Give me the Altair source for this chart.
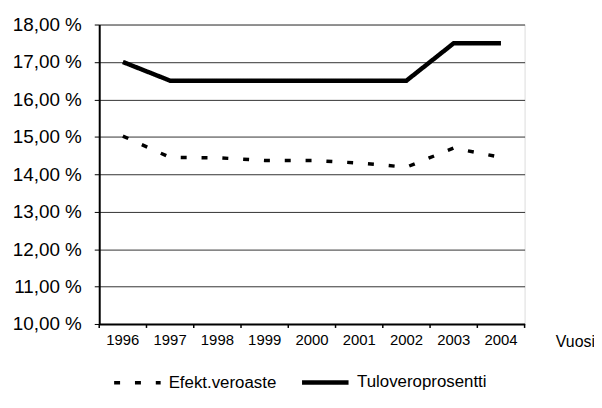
import altair as alt
import pandas as pd

years = ["1996", "1997", "1998", "1999", "2000", "2001", "2002", "2003", "2004"]
efekt = [15.02, 14.45, 14.44, 14.37, 14.37, 14.30, 14.19, 14.70, 14.45]
tulo = [17.0, 16.5, 16.5, 16.5, 16.5, 16.5, 16.5, 17.5, 17.5]
series = ["Efekt.veroaste", "Tuloveroprosentti"]

rows = []
for y, v in zip(years, efekt):
    rows.append({"Vuosi": y, "arvo": v, "sarja": series[0]})
for y, v in zip(years, tulo):
    rows.append({"Vuosi": y, "arvo": v, "sarja": series[1]})
df = pd.DataFrame(rows)
ticks_df = pd.DataFrame({"Vuosi": years})

font = "Liberation Sans"

leg = alt.Legend(title=None, orient="none", direction="horizontal",
                 legendX=13, legendY=335,
                 symbolType="stroke", symbolSize=2200,
                 symbolStrokeColor="black",
                 labelFont=font, labelFontSize=17, labelOffset=6,
                 labelColor="black", columnPadding=16)

xscale = alt.Scale(type="band", paddingInner=0, paddingOuter=0, domain=years)

lines = alt.Chart(df).mark_line(color="black", strokeCap="butt").encode(
    x=alt.X("Vuosi:O", bandPosition=0.5, scale=xscale,
            axis=alt.Axis(title="Vuosi", labelAngle=0, ticks=False, labelPadding=9,
                          labelFont=font, labelFontSize=15,
                          labelColor="black", domainColor="black", domainWidth=2,
                          titleFont=font, titleFontSize=16, titleFontWeight="normal",
                          titleColor="black", titleX=460, titleY=18,
                          titleAlign="left", titleBaseline="middle", grid=False)),
    y=alt.Y("arvo:Q",
            scale=alt.Scale(domain=[10, 18], nice=False, zero=False),
            axis=alt.Axis(title=None, values=[10, 11, 12, 13, 14, 15, 16, 17, 18],
                          labelExpr="replace(format(datum.value, '.2f'), '.', ',') + ' %'",
                          labelFont=font, labelFontSize=19, labelColor="black",
                          tickSize=5, tickColor="black", labelPadding=13,
                          domainColor="black", domainWidth=2,
                          grid=True, gridColor="#333", gridWidth=1)),
    strokeDash=alt.StrokeDash("sarja:N",
                              scale=alt.Scale(domain=series, range=[[6, 15], [1, 0]]),
                              legend=leg),
    strokeWidth=alt.StrokeWidth("sarja:N",
                                scale=alt.Scale(domain=series, range=[3.5, 4.5]),
                                legend=leg),
)

xticks = alt.Chart(ticks_df).mark_rule(color="black", strokeWidth=1.5).encode(
    x=alt.X("Vuosi:O", bandPosition=0, scale=xscale),
    y=alt.value(302), y2=alt.value(306),
)
xticks_end = alt.Chart(ticks_df).transform_filter("datum.Vuosi == '2004'").mark_rule(
    color="black", strokeWidth=1.5).encode(
    x=alt.X("Vuosi:O", bandPosition=1, scale=xscale),
    y=alt.value(302), y2=alt.value(306),
)

chart = alt.layer(lines, xticks, xticks_end).properties(
    width=429, height=302,
    autosize=alt.AutoSizeParams(type="none"),
    padding={"left": 92, "top": 15, "right": 70, "bottom": 75},
).configure_view(
    stroke="#777", strokeWidth=1
).configure(background="white")

chart.save("out.html", embed_options={"renderer": "svg", "actions": False})
